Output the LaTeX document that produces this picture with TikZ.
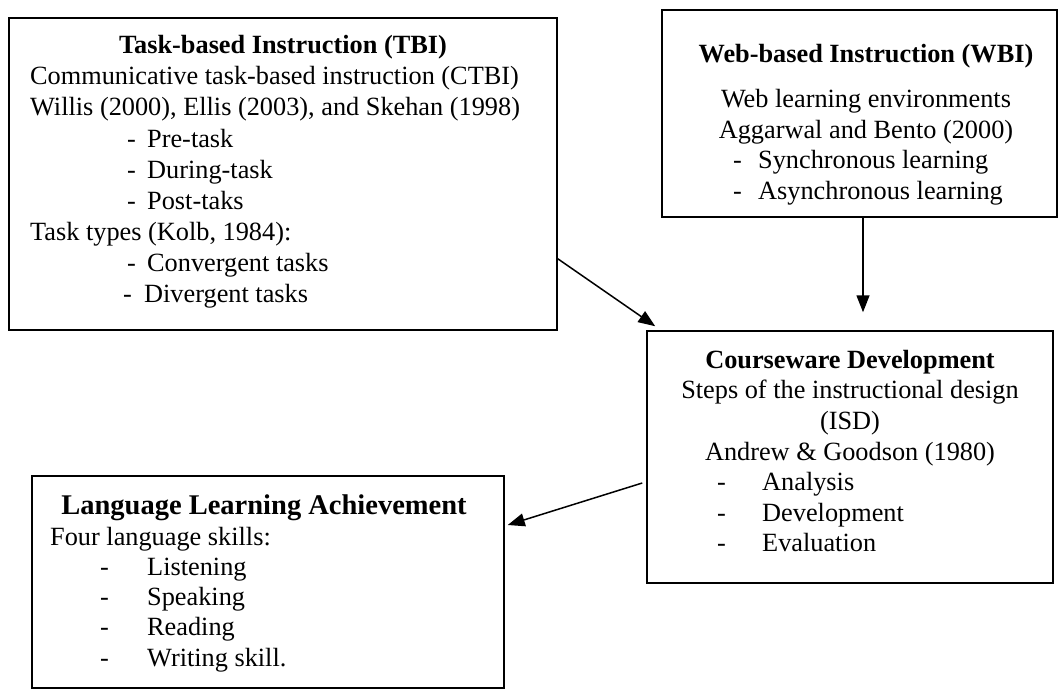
\documentclass[tikz,border=0pt]{standalone}
\usepackage{fontspec}
\setmainfont{Liberation Serif}
\usetikzlibrary{arrows.meta,calc}

% dash followed by an item text, dash set in a box of width #1
\newcommand{\bul}[2]{\makebox[#1][l]{-}#2}

\tikzset{
	box/.style={draw, line width=1.5pt, inner sep=0pt},
	txt/.style={anchor=base west, inner sep=0pt, font=\fontsize{26.3}{31}\selectfont},
	ctxt/.style={txt, anchor=base},
	head/.style={ctxt, font=\fontsize{26.3}{31}\selectfont\bfseries},
	arr/.style={-{Triangle[length=17pt,width=13pt]}, line width=1.5pt},
}

\begin{document}
\begin{tikzpicture}[x=1pt,y=-1pt]
		\useasboundingbox (0,0) rectangle (1059,690);

		% the four boxes
		\node[box, minimum width=548pt, minimum height=312pt] (tbi) at (283,174) {};
		\node[box, minimum width=395pt, minimum height=207pt] (wbi) at (859.5,113.5) {};
		\node[box, minimum width=406pt, minimum height=252pt] (cw) at (850,457) {};
		\node[box, minimum width=472pt, minimum height=212pt] (lla) at (268,582) {};

		% task-based instruction
		\node[head] (tbi-h) at (283,54) {Task-based Instruction (TBI)};
		\node[txt] (tbi-a) at (30,85) {Communicative task-based instruction (CTBI)};
		\node[txt] (tbi-b) at (30,116) {Willis (2000), Ellis (2003), and Skehan (1998)};
		\foreach \t [count=\i] in {Pre-task, During-task, Post-taks}
			\node[txt] (tbi-s\i) at (127,116+31*\i) {\bul{20pt}{\t}};
		\node[txt] (tbi-c) at (30,240) {Task types (Kolb, 1984):};
		\node[txt] (tbi-t1) at (127,271) {\bul{20pt}{Convergent tasks}};
		\node[txt] (tbi-t2) at (123,302) {\bul{21pt}{Divergent tasks}};

		% web-based instruction
		\node[head] (wbi-h) at (866,63) {Web-based Instruction (WBI)};
		\node[ctxt] (wbi-a) at (866,107) {Web learning environments};
		\node[ctxt] (wbi-b) at (866,138) {Aggarwal and Bento (2000)};
		\node[txt] (wbi-s1) at (733,168) {\bul{25pt}{Synchronous learning}};
		\node[txt] (wbi-s2) at (733,199) {\bul{25pt}{Asynchronous learning}};

		% courseware development
		\node[head] (cw-h) at (850,368) {Courseware Development};
		\node[ctxt] (cw-a) at (850,398) {Steps of the instructional design};
		\node[ctxt] (cw-b) at (850,429) {(ISD)};
		\node[ctxt] (cw-c) at (850,460) {Andrew \& Goodson (1980)};
		\foreach \t [count=\i] in {Analysis, Development, Evaluation}
			\node[txt] (cw-s\i) at (717,460+30.5*\i) {\bul{45pt}{\t}};

		% language learning achievement
		\node[head, font=\fontsize{28.5}{34}\selectfont\bfseries] (lla-h) at (264,514) {Language Learning Achievement};
		\node[txt] (lla-a) at (50,545) {Four language skills:};
		\foreach \t [count=\i] in {Listening, Speaking, Reading, Writing skill.}
			\node[txt] (lla-s\i) at (100,545+30.3*\i) {\bul{47pt}{\t}};

		% connectors
		\draw[arr] ($(tbi.south east)+(0,-72)$) -- ($(cw.north west)+(9,-4)$);
		\draw[arr] ($(wbi.south)+(3.5,0)$) -- ($(cw.north)+(13,-18)$);
		\draw[arr] ($(cw.west)+(-4,26)$) -- ($(lla.east)+(3,-57)$);
\end{tikzpicture}
\end{document}
